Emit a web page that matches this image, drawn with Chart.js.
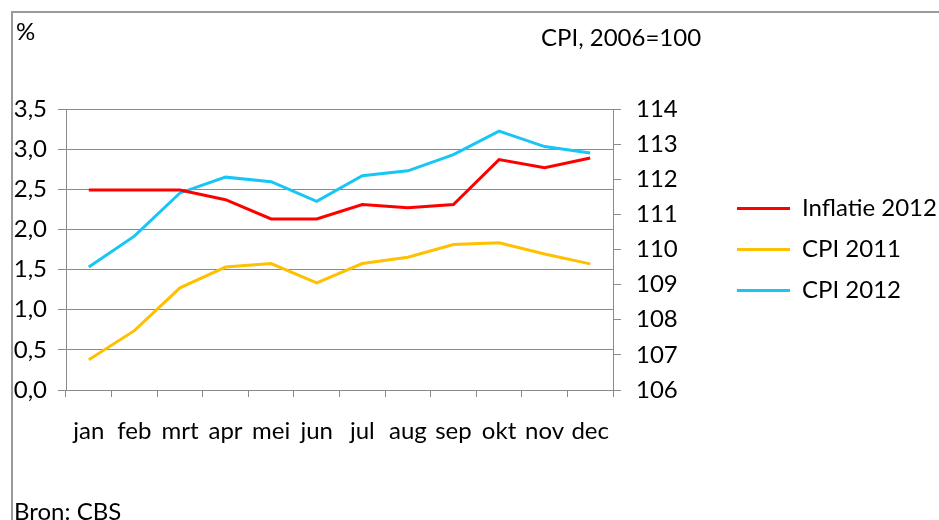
<!DOCTYPE html>
<html>
<head>
<meta charset="utf-8">
<script src="https://cdn.jsdelivr.net/npm/chart.js@4/dist/chart.umd.min.js"></script>
<style>
  html, body { margin: 0; padding: 0; background: #fff; overflow: hidden; }
  #wrap { position: relative; width: 939px; height: 520px; font-family: Lato, "Open Sans", sans-serif; color: #000; }
  #frame { position: absolute; left: 11px; top: 11px; width: 1000px; height: 600px; border-left: 2px solid #9a9a9a; border-top: 2px solid #9a9a9a; }
  .txt { position: absolute; font-size: 24px; line-height: 28px; white-space: nowrap; }
  canvas { position: absolute; left: 0; top: 0; }
</style>
</head>
<body>
<div id="wrap">
  <div id="frame"></div>
  <canvas id="cpiChart" width="939" height="520"></canvas>
  <div class="txt" style="left:16px; top:17px;">%</div>
  <div class="txt" style="left:541px; top:23px;">CPI, 2006=100</div>
  <div class="txt" style="left:14px; top:497px;">Bron: CBS</div>
</div>
<script>
const months = ["jan", "feb", "mrt", "apr", "mei", "jun", "jul", "aug", "sep", "okt", "nov", "dec"];
const inflatie2012 = [2.49, 2.49, 2.49, 2.37, 2.13, 2.13, 2.31, 2.27, 2.31, 2.87, 2.77, 2.89];
const cpi2011 = [106.86, 107.69, 108.91, 109.50, 109.60, 109.05, 109.60, 109.78, 110.14, 110.19, 109.87, 109.59];
const cpi2012 = [109.50, 110.38, 111.61, 112.06, 111.93, 111.37, 112.10, 112.24, 112.70, 113.37, 112.93, 112.75];

const gridGrey = "#8a8a8a";
const fontMain = { family: "Lato, 'Open Sans', sans-serif", size: 24 };

const ctx = document.getElementById("cpiChart");

const chart = new Chart(ctx, {
    type: "line",
    data: {
        labels: months,
        datasets: [{
            label: "Inflatie 2012",
            data: inflatie2012,
            borderColor: "#ff0000",
            backgroundColor: "#ff0000",
            borderWidth: 3,
            tension: 0,
            pointRadius: 0,
            yAxisID: "y"
        }, {
            label: "CPI 2011",
            data: cpi2011,
            borderColor: "#ffc000",
            backgroundColor: "#ffc000",
            borderWidth: 3,
            tension: 0,
            pointRadius: 0,
            yAxisID: "y1"
        }, {
            label: "CPI 2012",
            data: cpi2012,
            borderColor: "#18c6f6",
            backgroundColor: "#18c6f6",
            borderWidth: 3,
            tension: 0,
            pointRadius: 0,
            yAxisID: "y1"
        }]
    },
    options: {
        responsive: false,
        animation: false,
        layout: { padding: { top: 109, bottom: 60, left: 0, right: 0 } },
        scales: {
            x: {
                offset: true,
                grid: { offset: true, drawOnChartArea: false, color: gridGrey, tickLength: 7 },
                border: { color: gridGrey },
                ticks: { color: "#000", font: fontMain, padding: 20, autoSkip: false, maxRotation: 0 },
                afterFit: (s) => { s.height = 70; }
            },
            y: {
                position: "left",
                min: 0,
                max: 3.5,
                grid: { color: gridGrey, tickLength: 8 },
                border: { color: gridGrey },
                ticks: {
                    stepSize: 0.5,
                    color: "#000",
                    font: fontMain,
                    padding: 11,
                    callback: (v) => v.toFixed(1).replace(".", ",")
                },
                afterFit: (s) => { s.width = 66; }
            },
            y1: {
                position: "right",
                min: 106,
                max: 114,
                grid: { drawOnChartArea: false, color: gridGrey, tickLength: 8 },
                border: { color: gridGrey },
                ticks: { stepSize: 1, color: "#000", font: fontMain, padding: 15 },
                afterFit: (s) => { s.width = 107; }
            }
        },
        plugins: {
            tooltip: { enabled: false },
            legend: {
                position: "right",
                fullSize: false,
                maxWidth: 219,
                labels: {
                    color: "#000",
                    font: fontMain,
                    boxWidth: 53,
                    boxHeight: 3,
                    padding: 17,
                    generateLabels: (c) => Chart.defaults.plugins.legend.labels.generateLabels(c)
                        .map((l) => Object.assign(l, { lineWidth: 0 }))
                }
            }
        }
    }
});
</script>
</body>
</html>
